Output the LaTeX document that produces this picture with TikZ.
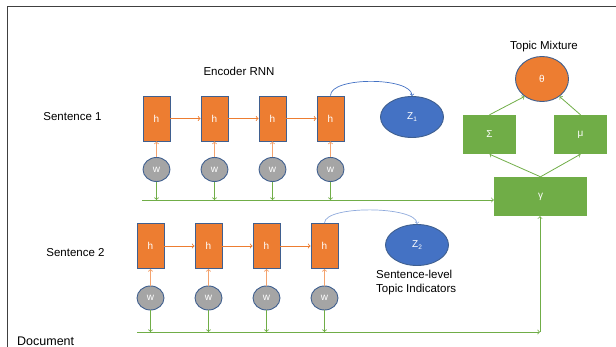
\documentclass[tikz,border=0pt]{standalone}
\usepackage{fontspec}
\setmainfont{Liberation Sans}
\usetikzlibrary{arrows,positioning,shapes.geometric}
\definecolor{hOrange}{HTML}{ED7D31}
\definecolor{hLight}{HTML}{F4A36E}
\definecolor{edgeBlue}{HTML}{3F5F8F}
\definecolor{wGray}{HTML}{A5A5A5}
\definecolor{zBlue}{HTML}{4472C4}
\definecolor{zLight}{HTML}{8FAADC}
\definecolor{pGreen}{HTML}{70AD47}
\definecolor{frameGray}{HTML}{404040}

\begin{document}
\begin{tikzpicture}[x=1pt,y=-1pt,>=to,node distance=58pt,on grid,
  hidden/.style={rectangle,draw=edgeBlue,line width=0.9pt,fill=hOrange,minimum width=27pt,minimum height=45pt,inner sep=0pt,text=white,font=\fontsize{10}{11}\selectfont},
  word/.style={ellipse,draw=edgeBlue,line width=0.9pt,fill=wGray,minimum width=27pt,minimum height=24pt,inner sep=0pt,text=white,font=\fontsize{10}{11}\selectfont},
  topic/.style={ellipse,draw=edgeBlue,line width=0.9pt,fill=zBlue,minimum width=63pt,minimum height=41pt,inner sep=0pt,text=white,font=\fontsize{10}{11}\selectfont},
  param/.style={rectangle,fill=pGreen,minimum width=53pt,minimum height=39pt,inner sep=0pt,text=white,font=\fontsize{10}{11}\selectfont},
  lbl/.style={inner sep=0pt,font=\fontsize{11.5}{14}\selectfont}]
\useasboundingbox (0,0) rectangle (616,347);
\draw[line width=1pt,frameGray] (616,7) -- (7,7) -- (7,347);

\node[lbl]               (EncoderLabel)  at (239,71)    {Encoder RNN};
\node[lbl]               (MixtureLabel)  at (544,47)    {Topic Mixture};
\node[lbl]               (SentOneLabel)  at (72.5,117)  {Sentence 1};
\node[lbl]               (SentTwoLabel)  at (75.5,253)  {Sentence 2};
\node[lbl,anchor=west]   (DocLabel)      at (17,341)    {\fontsize{12.5}{14}\selectfont Document};
\node[lbl,anchor=west,align=left] (IndicatorLabel) at (376,283) {Sentence-level\\Topic Indicators};

% sentence 1
\node[hidden] (HiddenOneA) at (156.5,118.5)      {h};
\node[hidden] (HiddenOneB) [right =of HiddenOneA] {h};
\node[hidden] (HiddenOneC) [right =of HiddenOneB] {h};
\node[hidden] (HiddenOneD) [right =of HiddenOneC] {h};
\node[word]   (WordOneA)   [below =51pt of HiddenOneA] {w};
\node[word]   (WordOneB)   [below =51pt of HiddenOneB] {w};
\node[word]   (WordOneC)   [below =51pt of HiddenOneC] {w};
\node[word]   (WordOneD)   [below =51pt of HiddenOneD] {w};
\node[topic]  (TopicOne)   at (412,117) {Z\raisebox{-2pt}{\fontsize{6.5}{6.5}\selectfont 1}};

% sentence 2
\node[hidden] (HiddenTwoA) at (150.5,246)      {h};
\node[hidden] (HiddenTwoB) [right =of HiddenTwoA] {h};
\node[hidden] (HiddenTwoC) [right =of HiddenTwoB] {h};
\node[hidden] (HiddenTwoD) [right =of HiddenTwoC] {h};
\node[word]   (WordTwoA)   [below =52pt of HiddenTwoA] {w};
\node[word]   (WordTwoB)   [below =52pt of HiddenTwoB] {w};
\node[word]   (WordTwoC)   [below =52pt of HiddenTwoC] {w};
\node[word]   (WordTwoD)   [below =52pt of HiddenTwoD] {w};
\node[topic]  (TopicTwo)   at (417,245) {Z\raisebox{-2pt}{\fontsize{6.5}{6.5}\selectfont 2}};

% topic mixture
\node[topic,fill=hOrange,minimum width=53pt,minimum height=45pt] (Theta) at (542,79) {θ};
\node[param]  (Sigma) at (489.5,134.5) {Σ};
\node[param]  (Mu)    at (580.5,134.5) {μ};
\node[param,minimum width=93pt] (Gamma) at (540.5,196.5) {γ};

\coordinate (DocOneStart) at (142,200);
\coordinate (DocTwoStart) at (137,332);
\coordinate (DocTwoEnd)   at (540,332);

\tikzset{rnn/.style={->,draw=hOrange,line width=0.9pt}}
\path (HiddenOneA) edge [rnn] (HiddenOneB)
      (HiddenOneB) edge [rnn] (HiddenOneC)
      (HiddenOneC) edge [rnn] (HiddenOneD)
      (HiddenTwoA) edge [rnn] (HiddenTwoB)
      (HiddenTwoB) edge [rnn] (HiddenTwoC)
      (HiddenTwoC) edge [rnn] (HiddenTwoD);
\tikzset{rnn/.style={->,draw=hLight,line width=0.9pt}}
\path (WordOneA) edge [rnn] (HiddenOneA)
      (WordOneB) edge [rnn] (HiddenOneB)
      (WordOneC) edge [rnn] (HiddenOneC)
      (WordOneD) edge [rnn] (HiddenOneD)
      (WordTwoA) edge [rnn] (HiddenTwoA)
      (WordTwoB) edge [rnn] (HiddenTwoB)
      (WordTwoC) edge [rnn] (HiddenTwoC)
      (WordTwoD) edge [rnn] (HiddenTwoD);

\tikzset{doc/.style={->,draw=pGreen,line width=0.8pt}}
\path (WordOneA) edge [doc] (WordOneA |- DocOneStart)
      (WordOneB) edge [doc] (WordOneB |- DocOneStart)
      (WordOneC) edge [doc] (WordOneC |- DocOneStart)
      (WordOneD) edge [doc] (WordOneD |- DocOneStart)
      (WordTwoA) edge [doc] (WordTwoA |- DocTwoStart)
      (WordTwoB) edge [doc] (WordTwoB |- DocTwoStart)
      (WordTwoC) edge [doc] (WordTwoC |- DocTwoStart)
      (WordTwoD) edge [doc] (WordTwoD |- DocTwoStart)
      (DocOneStart) edge [doc] (Gamma.west |- DocOneStart)
      (DocTwoStart) edge [doc] (DocTwoEnd)
      (DocTwoEnd)   edge [doc] (Gamma.south -| DocTwoEnd)
      (Gamma.north) edge [doc] (Sigma.south)
      (Gamma.north) edge [doc] (Mu.south)
      (Sigma.north) edge [doc] (Theta.-135)
      (Mu.north)    edge [doc] (Theta.-45);

\tikzset{attend/.style={->,draw=zBlue,line width=0.7pt,out=90,in=90,looseness=0.6}}
\path (HiddenOneD.north) edge [attend] (TopicOne.north);
\tikzset{attend/.style={->,draw=zLight,line width=0.7pt,out=90,in=90,looseness=0.5}}
\path (HiddenTwoD.north) edge [attend] (TopicTwo.north);
\end{tikzpicture}
\end{document}
